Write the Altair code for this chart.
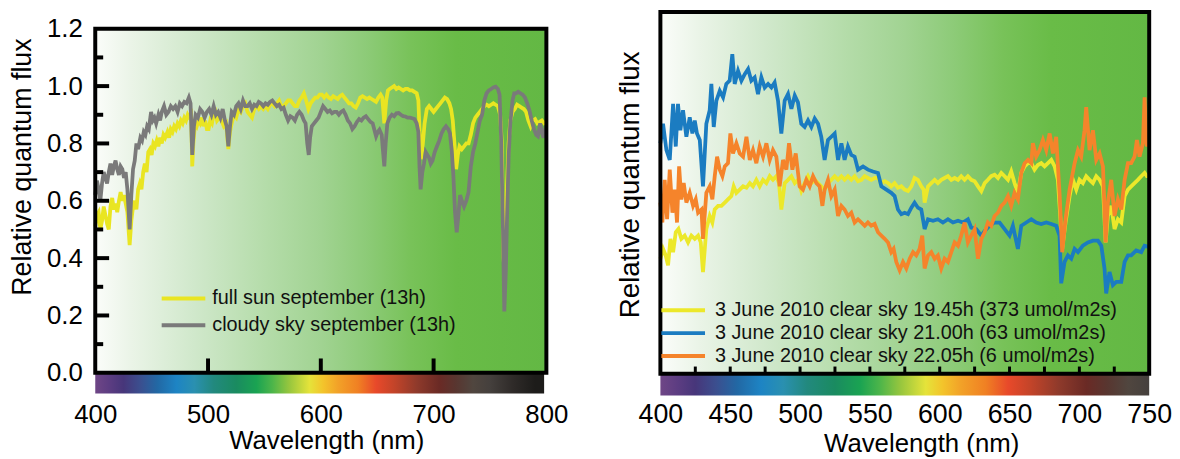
import altair as alt
import pandas as pd

FONT = "Liberation Sans"

# ---------------- left panel data (September, relative quantum flux) ----------------
sun_wl = [400, 401.5, 403, 404.5, 406, 407.5, 409, 410.5, 412, 413.5, 415, 416.5, 418, 419.5, 421, 422.5, 424, 425.5, 427, 428.5,
          430.5, 432, 433.5, 435, 436.5, 438, 439.5, 441, 442.5, 444, 445.5, 447, 448.5, 450, 451.5, 453, 454.5, 456, 457.5, 459,
          460.5, 462, 464, 465.5, 467, 468.5, 470, 471.5, 473, 474.5, 476, 477.5, 479, 480.5, 482, 483.5, 485, 486, 487, 488.5,
          490, 491.5, 493, 494.5, 496, 497.5, 499, 500.5, 502, 503.5, 505, 506.5, 508, 510, 512, 514, 516, 518, 519.5, 521,
          523, 525, 527, 529, 531, 533, 535, 537, 539, 541, 543, 545, 547, 549, 551, 553, 555, 557, 559, 561,
          563, 565, 567, 569, 571, 573, 575, 577, 579, 581, 583, 585, 587, 589, 591, 593, 595, 597, 599, 601,
          603, 605, 607, 609, 611, 613, 615, 617, 619, 621, 623, 625, 627, 629, 631, 633, 635, 637, 639, 641,
          643, 645, 647, 649, 651, 653, 654.5, 656.3, 658, 659.5, 661, 663, 665, 667, 669, 671, 673, 675, 677, 679,
          681, 683, 685, 686.5, 687.5, 689, 690.5, 692, 694, 696, 698, 700, 702, 704, 706, 708, 710, 712, 714, 715.5,
          717, 718.5, 720, 721.5, 723, 725, 727, 729, 731, 733, 735, 737, 739, 741, 743, 745, 747, 749, 751, 753,
          755, 757, 759, 760.5, 762, 763, 764, 765, 766.5, 768, 770, 772, 774, 776, 778, 780, 782, 784, 786, 788,
          790, 792, 794, 796, 798, 800]
sun_v = [0.51, 0.55, 0.56, 0.50, 0.53, 0.58, 0.55, 0.52, 0.50, 0.58, 0.61, 0.57, 0.59, 0.56, 0.60, 0.63, 0.60, 0.62, 0.59, 0.56,
         0.445, 0.53, 0.58, 0.60, 0.57, 0.64, 0.66, 0.64, 0.70, 0.73, 0.70, 0.77, 0.78, 0.76, 0.80, 0.79, 0.81, 0.79, 0.82, 0.80,
         0.83, 0.82, 0.84, 0.82, 0.85, 0.84, 0.86, 0.85, 0.87, 0.86, 0.88, 0.87, 0.89, 0.88, 0.90, 0.89, 0.90, 0.72, 0.80, 0.87,
         0.86, 0.88, 0.87, 0.89, 0.86, 0.88, 0.85, 0.85, 0.88, 0.87, 0.90, 0.91, 0.88, 0.89, 0.88, 0.86, 0.87, 0.78, 0.84, 0.87,
         0.90, 0.89, 0.92, 0.91, 0.93, 0.94, 0.91, 0.90, 0.89, 0.92, 0.93, 0.92, 0.93, 0.92, 0.93, 0.92, 0.935, 0.94, 0.93, 0.94,
         0.95, 0.93, 0.93, 0.94, 0.95, 0.95, 0.94, 0.93, 0.93, 0.95, 0.96, 0.975, 0.95, 0.92, 0.94, 0.95, 0.96, 0.96, 0.97, 0.97,
         0.96, 0.97, 0.96, 0.955, 0.965, 0.96, 0.955, 0.965, 0.97, 0.96, 0.95, 0.94, 0.94, 0.93, 0.925, 0.94, 0.96, 0.965, 0.96, 0.955,
         0.96, 0.955, 0.95, 0.945, 0.96, 0.97, 0.96, 0.87, 0.95, 0.985, 0.99, 0.995, 1.0, 0.99, 0.995, 0.99, 0.985, 0.99, 0.99, 0.985,
         0.985, 0.98, 0.975, 0.95, 0.85, 0.745, 0.80, 0.87, 0.92, 0.93, 0.92, 0.91, 0.92, 0.93, 0.94, 0.95, 0.96, 0.955, 0.94, 0.92,
         0.88, 0.80, 0.71, 0.76, 0.79, 0.78, 0.79, 0.80, 0.80, 0.83, 0.87, 0.89, 0.90, 0.91, 0.92, 0.93, 0.935, 0.93, 0.935, 0.94,
         0.935, 0.93, 0.90, 0.80, 0.40, 0.35, 0.45, 0.64, 0.80, 0.88, 0.91, 0.92, 0.935, 0.93, 0.925, 0.92, 0.91, 0.88, 0.86, 0.88,
         0.885, 0.87, 0.875, 0.88, 0.87, 0.875]

cloud_wl = [400, 401.5, 403, 404.5, 406, 407.5, 409, 410.5, 412, 413.5, 415, 416.5, 418, 419.5, 421, 422.5, 424, 425.5, 427, 428.5,
            430.5, 432, 433.5, 435, 436.5, 438, 440, 441.5, 443, 444.5, 446, 447.5, 449.5, 451, 452.5, 454, 456, 457.5, 459, 461,
            463, 465, 467, 469, 471, 473, 475, 477, 479, 481, 483, 484.5, 486, 487.5, 489, 491, 493, 495, 497, 499,
            501, 503, 505, 507, 509, 511, 513, 515, 516.5, 518, 519.5, 521, 523, 525, 527, 529, 531, 533, 535, 537,
            539, 541, 543, 545, 547, 549, 551, 553, 555, 557, 559, 561, 563, 565, 567, 569, 571, 573, 575, 577,
            579, 581, 583, 585, 586.5, 588, 589.3, 590.5, 592, 594, 596, 598, 600, 602, 604, 606, 608, 610, 612, 614,
            616, 618, 620, 622, 624, 626, 628, 630, 632, 634, 636, 638, 640, 642, 644, 646, 648, 649, 650.5, 652,
            654, 655, 656.3, 657.5, 659, 661, 663, 665, 667, 669, 671, 673, 675, 677, 679, 681, 683, 685, 686.5, 687.5,
            688.5, 690, 691.5, 693, 694.5, 696, 697.5, 699, 701, 703, 705, 707, 709, 711, 713, 714.5, 716, 717.5, 719, 720.5,
            722, 723.5, 725, 727, 729, 731, 733, 735, 737, 739, 741, 743, 745, 747, 749, 751, 753, 755, 757, 758.5,
            760, 761.5, 762.7, 764, 765, 766.5, 768, 770, 771.5, 773, 775, 777, 779, 781, 783, 785, 787, 789, 791, 792.5,
            794.5, 796, 797.5, 799, 800]
cloud_v = [0.62, 0.67, 0.64, 0.60, 0.66, 0.70, 0.68, 0.66, 0.70, 0.73, 0.69, 0.72, 0.74, 0.71, 0.69, 0.72, 0.71, 0.68, 0.70, 0.64,
           0.50, 0.62, 0.71, 0.74, 0.80, 0.78, 0.82, 0.81, 0.84, 0.83, 0.86, 0.85, 0.91, 0.88, 0.89, 0.87, 0.90, 0.88, 0.91, 0.93,
           0.90, 0.91, 0.93, 0.92, 0.93, 0.91, 0.94, 0.93, 0.945, 0.94, 0.96, 0.94, 0.76, 0.86, 0.90, 0.89, 0.92, 0.91, 0.89, 0.91,
           0.92, 0.90, 0.93, 0.90, 0.91, 0.89, 0.92, 0.88, 0.86, 0.79, 0.86, 0.91, 0.90, 0.93, 0.94, 0.92, 0.95, 0.93, 0.93, 0.94,
           0.92, 0.935, 0.93, 0.945, 0.94, 0.93, 0.94, 0.935, 0.945, 0.95, 0.94, 0.93, 0.935, 0.92, 0.925, 0.90, 0.88, 0.895, 0.89, 0.88,
           0.90, 0.91, 0.90, 0.88, 0.87, 0.80, 0.76, 0.82, 0.86, 0.87, 0.88, 0.89, 0.91, 0.93, 0.92, 0.91, 0.915, 0.905, 0.91, 0.91,
           0.90, 0.91, 0.915, 0.90, 0.88, 0.87, 0.85, 0.86, 0.875, 0.885, 0.88, 0.89, 0.895, 0.885, 0.875, 0.87, 0.84, 0.825, 0.84, 0.848,
           0.83, 0.78, 0.72, 0.80, 0.87, 0.89, 0.90, 0.895, 0.905, 0.906, 0.90, 0.895, 0.894, 0.89, 0.89, 0.888, 0.885, 0.87, 0.84, 0.72,
           0.64, 0.70, 0.73, 0.77, 0.76, 0.75, 0.73, 0.74, 0.77, 0.79, 0.81, 0.835, 0.85, 0.86, 0.85, 0.835, 0.78, 0.69, 0.56, 0.49,
           0.55, 0.62, 0.60, 0.58, 0.60, 0.63, 0.72, 0.77, 0.80, 0.84, 0.88, 0.90, 0.95, 0.975, 0.985, 0.99, 0.995, 0.998, 0.99, 0.97,
           0.80, 0.50, 0.214, 0.35, 0.52, 0.75, 0.87, 0.95, 0.975, 0.975, 0.98, 0.975, 0.97, 0.96, 0.94, 0.915, 0.88, 0.85, 0.83, 0.825,
           0.87, 0.84, 0.82, 0.85, 0.86]

left_labels = ["full sun september (13h)", "cloudy sky september (13h)"]
left_colors = ["#e9e522", "#7a7a7a"]

# ---------------- right panel data (3 June 2010, relative units) ----------------
j1945_wl = [400.0, 401.9, 403.8, 405.5, 407.2, 409.1, 411.0, 412.9, 415.0, 417.4, 419.8, 422.2, 424.6, 427.0, 428.9, 430.5, 432.9, 435.3, 437.2, 438.9,
            441.3, 443.7, 446.1, 448.4, 450.8, 452.5, 454.4, 456.8, 459.2, 461.6, 464.0, 466.3, 468.7, 471.1, 473.5, 475.9, 478.3, 480.6, 483.0, 484.9,
            486.6, 489.0, 491.4, 493.8, 496.2, 498.5, 500.9, 503.3, 505.7, 508.1, 510.5, 512.9, 515.2, 517.6, 520.0, 522.4, 524.8, 527.2, 529.6, 531.9,
            534.3, 536.7, 539.1, 541.5, 543.9, 546.3, 548.6, 551.0, 553.4, 555.8, 558.2, 560.6, 563.0, 565.3, 567.7, 570.1, 572.5, 574.9, 577.3, 579.7,
            582.0, 584.4, 586.8, 588.5, 589.2, 591.6, 594.0, 596.4, 598.7, 601.1, 603.5, 605.9, 608.3, 610.7, 613.1, 615.4, 617.8, 620.2, 622.6, 625.0,
            627.4, 629.8, 632.2, 634.5, 636.9, 639.3, 641.7, 644.1, 646.5, 648.9, 651.2, 653.6, 656.0, 658.4, 660.8, 663.2, 665.6, 667.9, 670.3, 672.7,
            675.1, 677.5, 679.9, 682.3, 684.6, 686.3, 687.7, 690.1, 693.0, 695.4, 697.8, 700.1, 702.5, 704.9, 707.3, 709.7, 712.1, 714.5, 716.9, 718.8,
            720.4, 722.8, 725.2, 727.6, 730.0, 732.4, 734.8, 737.1, 739.5, 741.9, 744.3, 746.7, 748.3, 749.8]
j1945_v = [0.318, 0.345, 0.327, 0.300, 0.373, 0.336, 0.391, 0.400, 0.373, 0.382, 0.363, 0.382, 0.373, 0.382, 0.363, 0.281, 0.400, 0.436, 0.418, 0.454,
           0.464, 0.464, 0.473, 0.482, 0.491, 0.518, 0.500, 0.509, 0.518, 0.514, 0.527, 0.518, 0.536, 0.518, 0.536, 0.527, 0.546, 0.536, 0.546, 0.527,
           0.454, 0.527, 0.536, 0.546, 0.527, 0.536, 0.505, 0.527, 0.546, 0.527, 0.536, 0.527, 0.518, 0.509, 0.527, 0.536, 0.546, 0.536, 0.546, 0.536,
           0.546, 0.536, 0.546, 0.532, 0.536, 0.546, 0.541, 0.536, 0.541, 0.541, 0.527, 0.532, 0.527, 0.518, 0.527, 0.514, 0.518, 0.509, 0.505, 0.518,
           0.541, 0.536, 0.518, 0.509, 0.473, 0.518, 0.527, 0.536, 0.527, 0.536, 0.541, 0.546, 0.536, 0.541, 0.536, 0.546, 0.536, 0.546, 0.536, 0.532,
           0.518, 0.505, 0.527, 0.536, 0.546, 0.550, 0.541, 0.555, 0.546, 0.536, 0.559, 0.527, 0.500, 0.555, 0.573, 0.582, 0.582, 0.564, 0.577, 0.582,
           0.573, 0.582, 0.591, 0.573, 0.536, 0.436, 0.345, 0.418, 0.491, 0.536, 0.509, 0.536, 0.527, 0.546, 0.536, 0.527, 0.546, 0.536, 0.518, 0.363,
           0.436, 0.464, 0.400, 0.427, 0.418, 0.491, 0.509, 0.518, 0.527, 0.536, 0.546, 0.555, 0.546, 0.546]

j2100_wl = [400.0, 401.9, 404.3, 406.7, 409.1, 411.0, 412.6, 414.3, 416.2, 418.6, 421.0, 422.9, 424.6, 426.2, 428.2, 430.5, 432.9, 435.3, 436.5, 438.2,
            440.1, 442.5, 444.9, 447.2, 449.6, 451.5, 453.2, 455.6, 458.0, 460.4, 462.8, 465.1, 467.5, 469.9, 472.3, 474.7, 477.1, 479.5, 481.8, 484.2,
            486.6, 489.0, 491.4, 493.8, 496.2, 498.5, 500.9, 503.3, 505.7, 508.1, 510.5, 512.9, 515.2, 517.6, 520.0, 522.4, 524.8, 527.2, 529.6, 531.9,
            534.3, 536.7, 539.1, 541.5, 545.1, 548.6, 552.2, 555.8, 558.2, 561.8, 565.3, 567.7, 570.1, 572.5, 574.9, 577.3, 579.7, 582.0, 584.4, 586.8,
            589.2, 591.6, 595.2, 598.7, 602.3, 605.9, 609.5, 613.1, 616.6, 620.2, 622.6, 626.2, 629.8, 632.2, 635.7, 639.3, 642.9, 646.5, 650.0, 652.4,
            656.0, 658.4, 662.0, 665.6, 669.1, 672.7, 676.3, 679.9, 683.4, 685.8, 687.0, 689.4, 691.8, 694.2, 696.6, 699.0, 702.5, 706.1, 709.7, 713.3,
            715.7, 718.0, 719.2, 721.6, 724.0, 726.4, 730.0, 732.4, 734.8, 737.1, 740.7, 744.3, 746.7, 750.0]
j2100_v = [0.637, 0.691, 0.618, 0.591, 0.746, 0.628, 0.746, 0.673, 0.728, 0.655, 0.709, 0.664, 0.700, 0.664, 0.646, 0.518, 0.691, 0.728, 0.801, 0.682,
           0.755, 0.782, 0.764, 0.801, 0.810, 0.883, 0.801, 0.837, 0.810, 0.828, 0.842, 0.810, 0.819, 0.773, 0.819, 0.791, 0.801, 0.791, 0.805, 0.755,
           0.664, 0.755, 0.773, 0.732, 0.769, 0.750, 0.691, 0.682, 0.700, 0.682, 0.705, 0.691, 0.655, 0.591, 0.646, 0.655, 0.664, 0.591, 0.637, 0.591,
           0.628, 0.605, 0.600, 0.564, 0.573, 0.564, 0.559, 0.555, 0.518, 0.509, 0.500, 0.491, 0.454, 0.441, 0.445, 0.441, 0.459, 0.473, 0.459, 0.454,
           0.400, 0.427, 0.423, 0.427, 0.418, 0.427, 0.418, 0.423, 0.418, 0.427, 0.404, 0.400, 0.382, 0.395, 0.409, 0.418, 0.418, 0.400, 0.382, 0.409,
           0.345, 0.409, 0.418, 0.427, 0.418, 0.414, 0.418, 0.414, 0.409, 0.382, 0.250, 0.309, 0.327, 0.318, 0.345, 0.336, 0.354, 0.363, 0.368, 0.368,
           0.354, 0.291, 0.222, 0.281, 0.245, 0.254, 0.254, 0.309, 0.327, 0.327, 0.341, 0.336, 0.354, 0.350]

j2205_wl = [400.0, 401.4, 403.1, 404.8, 406.7, 408.6, 410.3, 411.9, 413.4, 415.0, 416.7, 418.6, 421.0, 423.4, 425.3, 427.0, 429.4, 430.5, 432.9, 435.3,
            437.2, 438.9, 440.6, 442.5, 444.4, 446.1, 448.4, 450.1, 452.0, 454.4, 456.8, 459.2, 461.6, 464.0, 466.3, 468.7, 471.1, 473.5, 475.9, 478.3,
            480.6, 483.0, 485.4, 487.8, 490.2, 492.1, 494.5, 496.9, 499.7, 502.1, 504.5, 506.9, 509.3, 511.7, 514.0, 516.0, 517.6, 520.0, 522.4, 524.8,
            527.2, 529.6, 531.9, 534.3, 536.7, 539.1, 541.5, 543.9, 546.3, 548.6, 551.0, 553.4, 555.8, 558.2, 560.6, 563.0, 565.3, 567.0, 568.9, 571.3,
            573.7, 576.1, 578.5, 580.9, 583.2, 585.6, 587.5, 589.2, 591.6, 594.0, 596.4, 598.7, 601.1, 603.5, 605.9, 608.3, 610.7, 613.1, 615.4, 617.8,
            620.2, 622.6, 625.0, 627.4, 629.8, 632.2, 634.5, 636.9, 639.3, 641.7, 644.1, 646.5, 648.9, 651.2, 653.6, 656.0, 658.4, 660.8, 663.2, 665.6,
            666.7, 669.1, 671.5, 673.9, 676.3, 678.7, 681.1, 683.4, 685.8, 687.7, 690.1, 693.0, 696.6, 699.0, 701.3, 703.7, 704.9, 707.3, 709.7, 712.1,
            714.5, 716.9, 718.8, 720.4, 722.8, 725.2, 727.6, 730.0, 732.4, 734.8, 737.1, 739.5, 741.2, 743.1, 745.5, 746.7, 748.3, 749.8]
j2205_v = [0.473, 0.418, 0.536, 0.427, 0.564, 0.445, 0.509, 0.418, 0.573, 0.482, 0.527, 0.473, 0.500, 0.464, 0.482, 0.445, 0.454, 0.373, 0.500, 0.518,
           0.482, 0.546, 0.600, 0.564, 0.546, 0.573, 0.582, 0.664, 0.609, 0.637, 0.609, 0.600, 0.655, 0.591, 0.618, 0.582, 0.628, 0.600, 0.637, 0.591,
           0.618, 0.600, 0.518, 0.591, 0.564, 0.637, 0.564, 0.609, 0.518, 0.509, 0.536, 0.518, 0.546, 0.527, 0.518, 0.464, 0.509, 0.536, 0.491, 0.509,
           0.436, 0.464, 0.454, 0.436, 0.445, 0.418, 0.427, 0.418, 0.409, 0.418, 0.409, 0.414, 0.391, 0.382, 0.373, 0.363, 0.336, 0.345, 0.309, 0.286,
           0.309, 0.291, 0.318, 0.336, 0.327, 0.345, 0.382, 0.291, 0.327, 0.336, 0.318, 0.327, 0.291, 0.318, 0.309, 0.336, 0.363, 0.354, 0.382, 0.418,
           0.363, 0.382, 0.400, 0.318, 0.373, 0.391, 0.418, 0.409, 0.436, 0.445, 0.464, 0.473, 0.491, 0.464, 0.500, 0.482, 0.555, 0.582, 0.591, 0.582,
           0.637, 0.600, 0.618, 0.646, 0.618, 0.664, 0.609, 0.655, 0.500, 0.336, 0.427, 0.509, 0.582, 0.618, 0.600, 0.673, 0.737, 0.618, 0.673, 0.591,
           0.609, 0.573, 0.363, 0.473, 0.536, 0.436, 0.482, 0.454, 0.536, 0.582, 0.582, 0.600, 0.646, 0.600, 0.637, 0.764, 0.628, 0.655]

right_labels = ["3 June 2010 clear sky 19.45h (373 umol/m2s)",
                "3 June 2010 clear sky 21.00h (63 umol/m2s)",
                "3 June 2010 clear sky 22.05h (6 umol/m2s)"]
right_colors = ["#ece82a", "#1b7cc1", "#f5842b"]

# ---------------- axes / decorations ----------------
left_xticks = [400, 500, 600, 700, 800]
left_inner_xticks = [500, 600, 700]
left_yticks = [0.0, 0.2, 0.4, 0.6, 0.8, 1.0, 1.2]
left_major_y = [0.2, 0.4, 0.6, 0.8, 1.0]
left_minor_y = [0.1, 0.3, 0.5, 0.7, 0.9, 1.1]
right_xticks = [400, 450, 500, 550, 600, 650, 700, 750]
right_inner_xticks = [425, 450, 475, 500, 525, 550, 575, 600, 625, 650, 675, 700, 725]

# background tint (white -> leaf green), fraction of panel width
bg_offsets = [0.0, 0.08, 0.22, 0.38, 0.5, 0.6, 0.7, 0.8, 1.0]
bg_colors = ["#fbfdfa", "#eaf4e7", "#d0e8cb", "#b4dca9", "#a1d392", "#8dcb78", "#78c259", "#69bc47", "#63b844"]

# visible spectrum bar colours by wavelength
spec_wl = [400, 412, 425, 440, 455, 472, 488, 505, 525, 543, 557, 572, 590, 602, 615, 633, 649, 665, 685, 705,
           720, 735, 750, 770, 790, 800]
spec_col = ["#6f4686", "#5d3d82", "#47367a", "#3b4f8f", "#2268a4", "#1d84c4", "#2a90b0", "#22897e", "#1a8b60", "#1aa352",
            "#4cb54a", "#97c63e", "#e5e33a", "#f3c42b", "#f2a228", "#f08023", "#e8492a", "#c34429", "#8f3a2b", "#6a2a25",
            "#583630", "#50463f", "#45403d", "#2f2b29", "#1d1c1a", "#1c1b19"]


def lin_grad(offsets, colors):
    return alt.LinearGradient(
        gradient="linear", x1=0, x2=1, y1=0, y2=0,
        stops=[alt.GradientStop(offset=float(o), color=c) for o, c in zip(offsets, colors)],
    )


def spec_grad(x_end):
    offs, cols = [], []
    for w, c in zip(spec_wl, spec_col):
        if w <= x_end:
            offs.append((w - 400) / (x_end - 400))
            cols.append(c)
    return lin_grad(offs, cols)


def panel(series, xdom, ydom, ytop, width, height, bar_end, bar_y, xaxis, yaxis,
          inner_xticks, inner_tick_len, inner_tick_w, legend_pos, legend_font, extra=()):
    xs = alt.Scale(domain=xdom, nice=False, zero=False)
    ys = alt.Scale(domain=ydom, nice=False, zero=False)

    def X(f):
        return alt.X(f, scale=xs, axis=xaxis)

    def Y(f):
        return alt.Y(f, scale=ys, axis=yaxis)

    box = pd.DataFrame({"x": [xdom[0]], "x2": [xdom[1]], "y": [0.0], "y2": [ytop]})
    bar = pd.DataFrame({"x": [xdom[0]], "x2": [bar_end], "y": [bar_y[0]], "y2": [bar_y[1]]})

    layers = []
    layers.append(alt.Chart(box).mark_rect(fill=lin_grad(bg_offsets, bg_colors)).encode(
        x=X("x:Q"), x2="x2:Q", y=Y("y:Q"), y2="y2:Q"))
    layers.append(alt.Chart(bar).mark_rect(fill=spec_grad(bar_end)).encode(
        x=X("x:Q"), x2="x2:Q", y=Y("y:Q"), y2="y2:Q"))
    for wl, vals, col, lab in series:
        df = pd.DataFrame({"wl": wl, "v": vals, "s": lab})
        layers.append(alt.Chart(df).mark_line(color=col, strokeWidth=3.8).encode(
            x=X("wl:Q"), y=Y("v:Q"), order="wl:Q"))
    # inward x ticks on bottom frame
    tdf = pd.DataFrame({"t": inner_xticks, "y0": 0.0, "y1": inner_tick_len})
    layers.append(alt.Chart(tdf).mark_rule(color="black", strokeWidth=inner_tick_w).encode(
        x=X("t:Q"), y=Y("y0:Q"), y2="y1:Q"))
    # inward y ticks on left frame (pixel lengths)
    for vals, length in extra:
        ydf = pd.DataFrame({"t": vals})
        layers.append(alt.Chart(ydf).mark_rule(color="black", strokeWidth=4).encode(
            x=alt.value(0), x2=alt.value(length), y=Y("t:Q")))
    # frame
    layers.append(alt.Chart(box).mark_rect(filled=False, color="black", strokeWidth=4).encode(
        x=X("x:Q"), x2="x2:Q", y=Y("y:Q"), y2="y2:Q"))
    # legend
    lx0, lx1, tx, ys_px = legend_pos
    for (wl, vals, col, lab), py in zip(series, ys_px):
        ldf = pd.DataFrame({"label": [lab]})
        layers.append(alt.Chart(ldf).mark_rule(color=col, strokeWidth=4).encode(
            x=alt.value(lx0), x2=alt.value(lx1), y=alt.value(py)))
        layers.append(alt.Chart(ldf).mark_text(align="left", baseline="middle", font=FONT,
                                               fontSize=legend_font, color="#111111").encode(
            x=alt.value(tx), y=alt.value(py), text="label:N"))
    return alt.layer(*layers).properties(width=width, height=height)


# ---------------- left panel ----------------
left_xaxis = alt.Axis(values=left_xticks, format="d", labelFontSize=26, labelFont=FONT, labelColor="black",
                      ticks=False, domain=False, grid=False, labelPadding=6, labelOverlap=False, labelFlush=False,
                      title="Wavelength (nm)", titleFont=FONT, titleFontSize=26, titleFontWeight="normal",
                      titleColor="black", titlePadding=0, titleX=233)
left_yaxis = alt.Axis(values=left_yticks, format=".1f", labelFontSize=26, labelFont=FONT, labelColor="black",
                      ticks=False, domain=False, grid=False, labelPadding=13, labelOverlap=False,
                      title="Relative quantum flux", titleFont=FONT, titleFontSize=27, titleFontWeight="normal",
                      titleColor="black", titlePadding=10, titleY=156)

left = panel(
    series=[(sun_wl, sun_v, left_colors[0], left_labels[0]),
            (cloud_wl, cloud_v, left_colors[1], left_labels[1])],
    xdom=[400, 800], ydom=[-0.0795, 1.2588], ytop=1.2, width=455, height=387,
    bar_end=798, bar_y=[-0.004, -0.072], xaxis=left_xaxis, yaxis=left_yaxis,
    inner_xticks=left_inner_xticks, inner_tick_len=0.05, inner_tick_w=4,
    legend_pos=(67, 111, 118, [289, 316]), legend_font=20,
    extra=[(left_major_y, 14), (left_minor_y, 8)])

# ---------------- right panel ----------------
right_xaxis = alt.Axis(values=right_xticks, format="d", labelFontSize=27, labelFont=FONT, labelColor="black",
                       ticks=False, domain=False, grid=False, labelPadding=6, labelOverlap=False, labelFlush=False,
                       title="Wavelength (nm)", titleFont=FONT, titleFontSize=26, titleFontWeight="normal",
                       titleColor="black", titlePadding=3, titleX=263)
right_yaxis = alt.Axis(labels=False, ticks=False, domain=False, grid=False,
                       title="Relative quantum flux", titleFont=FONT, titleFontSize=28, titleFontWeight="normal",
                       titleColor="black", titlePadding=16, titleY=174)

right = panel(
    series=[(j1945_wl, j1945_v, right_colors[0], right_labels[0]),
            (j2100_wl, j2100_v, right_colors[1], right_labels[1]),
            (j2205_wl, j2205_v, right_colors[2], right_labels[2])],
    xdom=[400, 750], ydom=[-0.0603, 1.0], ytop=1.0, width=493, height=387,
    bar_end=750, bar_y=[-0.003, -0.0603], xaxis=right_xaxis, yaxis=right_yaxis,
    inner_xticks=right_inner_xticks, inner_tick_len=0.02, inner_tick_w=3,
    legend_pos=(1, 45, 55, [301, 324, 347]), legend_font=20)

chart = alt.hconcat(left, right, spacing=49).properties(padding=0).configure_view(stroke=None)

chart.save("out.html", embed_options={"renderer": "svg", "actions": False})
